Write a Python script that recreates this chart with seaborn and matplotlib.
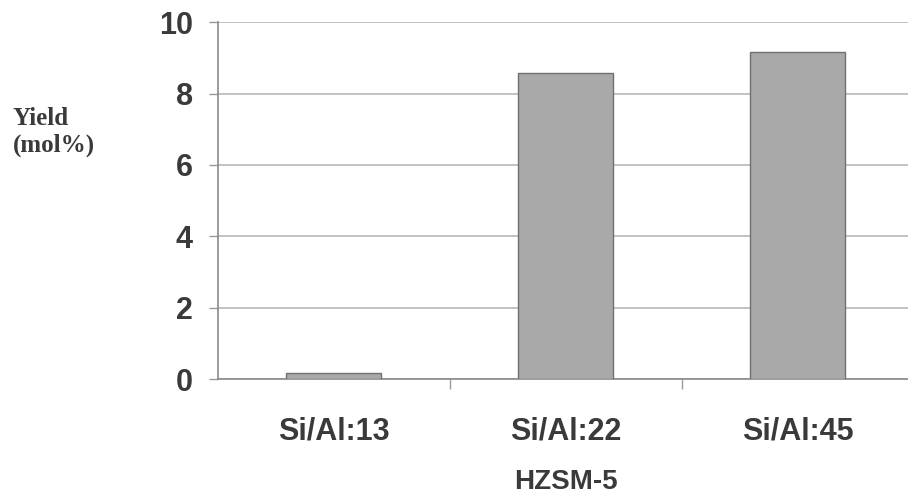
import matplotlib.pyplot as plt
import pandas as pd
import seaborn as sns

# Data
catalysts = ['Si/Al:13', 'Si/Al:22', 'Si/Al:45']
yields = [0.18, 8.57, 9.16]
y_ticks = [0, 2, 4, 6, 8, 10]

df = pd.DataFrame({'catalyst': catalysts, 'yield': yields})

sns.set_style('white')
plt.rcParams['font.family'] = ['Liberation Sans', 'DejaVu Sans']

fig = plt.figure(figsize=(9.08, 5.03), dpi=100)
ax = fig.add_axes([0.24, 0.2465, 0.766, 0.7095])

sns.barplot(data=df, x='catalyst', y='yield', color='#a9a9a9', width=0.41,
            edgecolor='#707070', linewidth=1.0, ax=ax, zorder=3)

ax.set_ylim(0, 10)
ax.set_xlim(-0.5, 2.5)
ax.set_yticks(y_ticks)
ax.yaxis.grid(True, color='#b8b8b8', linewidth=1.2, zorder=0)

# category separator ticks
ax.set_xticks([0.5, 1.5], minor=True)
ax.tick_params(axis='x', which='minor', bottom=True, direction='out', length=7,
               color='#999999', width=1)
ax.tick_params(axis='x', which='major', bottom=False, length=0, pad=27,
               labelsize=22, labelcolor='#3a3a3a')
ax.tick_params(axis='y', left=True, direction='out', length=6.5, color='#999999',
               width=1, pad=11.5, labelsize=22, labelcolor='#3a3a3a')
for lbl in ax.get_xticklabels() + ax.get_yticklabels():
    lbl.set_fontweight('bold')

for s in ['top', 'right']:
    ax.spines[s].set_visible(False)
ax.spines['left'].set_color('#8a8a8a')
ax.spines['left'].set_linewidth(1.2)
ax.spines['bottom'].set_color('#8a8a8a')
ax.spines['bottom'].set_linewidth(1.2)

ax.set_xlabel('HZSM-5', fontsize=20, fontweight='bold', color='#3a3a3a', labelpad=16)
ax.set_ylabel('')
fig.text(0.014, 0.737, 'Yield\n(mol%)', fontsize=18, fontweight='bold',
         family=['Liberation Serif', 'DejaVu Serif'], color='#3a3a3a',
         ha='left', va='center', linespacing=1.2)

fig.savefig('out.png', dpi=100)
